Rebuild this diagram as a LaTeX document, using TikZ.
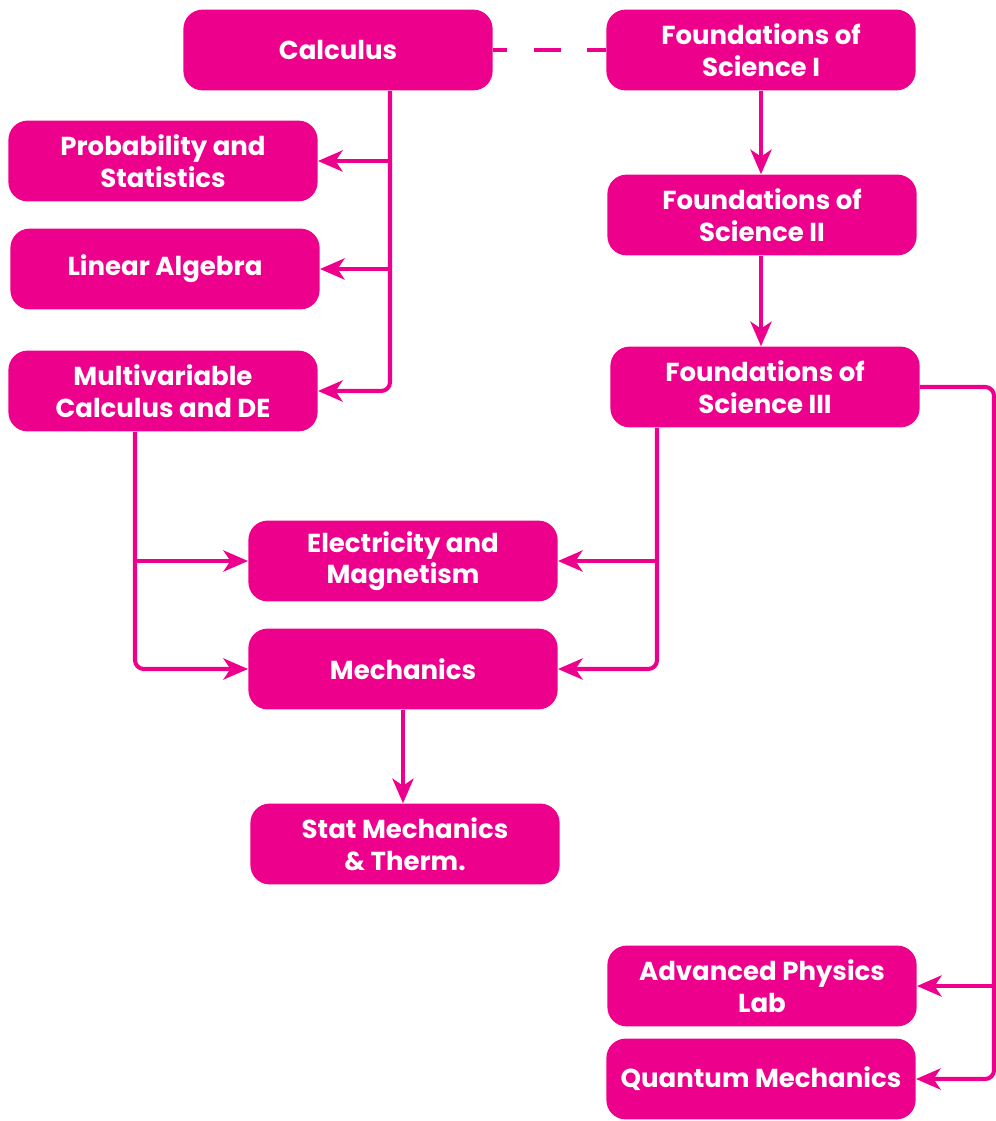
\documentclass[tikz,border=0pt]{standalone}
\usepackage{fontspec}
\setmainfont{Poppins}
\usetikzlibrary{arrows.meta}

\definecolor{coursepink}{HTML}{EC008C}

\tikzset{
  course/.style={rectangle, rounded corners=11pt, fill=coursepink, text=white,
    font=\bfseries\fontsize{14.8}{18}\selectfont, align=center,
    minimum width=176pt, minimum height=46pt, inner sep=0pt},
  prereq/.style={draw=coursepink, line width=2.3pt, rounded corners=5pt,
    -{Stealth[length=14pt, width=12pt, inset=4pt]}},
  coreq/.style={draw=coursepink, line width=2.3pt,
    dash pattern=on 15.3pt off 15.3pt, dash phase=7.4pt},
}

\begin{document}
\begin{tikzpicture}[x=0.02cm, y=-0.02cm]
    \useasboundingbox (0,0) rectangle (996,1121);

    % math track
    \node[course] (calc)  at (338,50)  {Calculus};
    \node[course] (prob)  at (163,161) {Probability and\\Statistics};
    \node[course] (linalg) at (165,269) {Linear Algebra};
    \node[course] (multi) at (163,391) {Multivariable\\Calculus and DE};

    % foundations track
    \node[course] (fos1) at (761,50)  {Foundations of\\Science I};
    \node[course] (fos2) at (762,215) {Foundations of\\Science II};
    \node[course] (fos3) at (765,387) {Foundations of\\Science III};

    % physics core
    \node[course] (em)   at (403,561) {Electricity and\\Magnetism};
    \node[course] (mech) at (403,669) {Mechanics};
    \node[course] (stat) at (405,844) {Stat Mechanics\\ \& Therm.};

    % upper level
    \node[course] (lab)     at (762,986)  {Advanced Physics\\Lab};
    \node[course] (quantum) at (761,1079) {Quantum Mechanics};

    \coordinate (calctrunk) at (390,0);
    \coordinate (multitrunk) at (135,0);
    \coordinate (fostrunk) at (657,0);
    \coordinate (uppertrunk) at (994,0);

    \draw[coreq] (calc.east) -- (fos1.west);

    \draw[prereq] (calc.south -| calctrunk) |- (multi.east);
    \draw[prereq] (prob.east -| calctrunk) -- (prob.east);
    \draw[prereq] (linalg.east -| calctrunk) -- (linalg.east);

    \draw[prereq] (fos1.south) -- (fos1.south |- fos2.north);
    \draw[prereq] (fos2.south -| fos1.south) -- (fos1.south |- fos3.north);

    \draw[prereq] (fos3.south -| fostrunk) |- (mech.east);
    \draw[prereq] (em.east -| fostrunk) -- (em.east);
    \draw[prereq] (multi.south -| multitrunk) |- (mech.west);
    \draw[prereq] (em.west -| multitrunk) -- (em.west);

    \draw[prereq] (mech.south) -- (mech.south |- stat.north);

    \draw[prereq] (fos3.east) -| (uppertrunk |- quantum.east) -- (quantum.east);
    \draw[prereq] (lab.east -| uppertrunk) -- (lab.east);
\end{tikzpicture}
\end{document}
